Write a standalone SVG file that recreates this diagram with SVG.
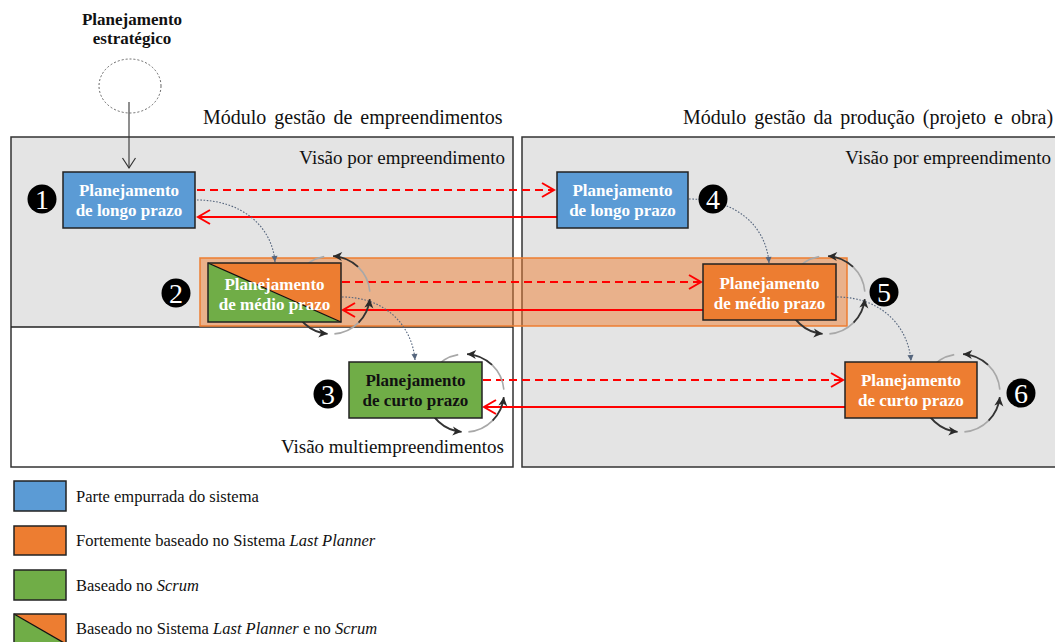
<svg xmlns="http://www.w3.org/2000/svg" xmlns:xlink="http://www.w3.org/1999/xlink" width="1055" height="642" viewBox="0 0 1055 642">
<style>
.serif{font-family:"Liberation Serif","Times New Roman",serif;}
.title{font-size:20px;fill:#111;word-spacing:3px;}
.view{font-size:19px;fill:#111;}
.nt{font-size:17px;font-weight:bold;text-anchor:middle;}
.w{fill:#fff;}
.k{fill:#111;}
.box{stroke:#222;stroke-width:1.5;}
.blue{fill:#5B9BD5;}
.orange{fill:#ED7D31;}
.green{fill:#70AD47;}
.red{stroke:#FF0000;stroke-width:2;fill:none;}
.dash{stroke-dasharray:8 5;}
.dot{stroke:#55657D;stroke-width:1.1;fill:none;stroke-dasharray:1.6 1.6;}
.num{fill:#000;}
.numt{font-size:28px;fill:#fff;text-anchor:middle;}
.leg{font-size:16.5px;fill:#111;}
.cl{stroke:#A8A8A8;stroke-width:1.6;fill:none;}
.cd{stroke:#333;stroke-width:1.8;fill:none;}
</style>
<defs>
<marker id="chev" viewBox="-14 -9 16 18" refX="0" refY="0" markerWidth="16" markerHeight="18" orient="auto" markerUnits="userSpaceOnUse">
<path d="M-12,-7 L0,0 L-12,7" fill="none" stroke="#FF0000" stroke-width="2"/>
</marker>
<marker id="open" viewBox="-12 -8 14 16" refX="0" refY="0" markerWidth="14" markerHeight="16" orient="auto" markerUnits="userSpaceOnUse">
<path d="M-10,-6.5 L0,0 L-10,6.5" fill="none" stroke="#333" stroke-width="1.2"/>
</marker>
<marker id="tri" viewBox="-7 -4 8 8" refX="0" refY="0" markerWidth="8" markerHeight="8" orient="auto" markerUnits="userSpaceOnUse">
<path d="M0,0 L-6,-3 L-6,3 z" fill="#55657D"/>
</marker>
<marker id="cyc" viewBox="-10 -6 11 12" refX="0" refY="0" markerWidth="11" markerHeight="12" orient="auto" markerUnits="userSpaceOnUse">
<path d="M0,0 L-9,-4.5 L-6.5,0 L-9,4.5 z" fill="#2A2A2A"/>
</marker>
<g id="cycle">
<path class="cl" d="M38.85,-3.40 A39,39 0 0 0 27.09,-28.05"/>
<path class="cd" d="M27.09,-28.05 A39,39 0 0 0 2.04,-38.95" marker-end="url(#cyc)"/>
<path class="cl" d="M-6.77,-38.41 A39,39 0 0 0 -38.41,6.77"/>
<path class="cd" d="M-38.41,6.77 A39,39 0 0 0 -3.40,38.85" marker-end="url(#cyc)"/>
<path class="cl" d="M3.40,38.85 A39,39 0 0 0 27.58,27.58"/>
<path class="cd" d="M27.58,27.58 A39,39 0 0 0 38.79,4.08" marker-end="url(#cyc)"/>
</g>
</defs>
<rect width="1055" height="642" fill="#fff"/>

<g id="panels">
<rect x="11" y="137" width="502" height="190" fill="#E4E4E4"/>
<rect x="11" y="327" width="502" height="140" fill="#fff"/>
<rect x="11" y="137" width="502" height="330" fill="none" stroke="#333" stroke-width="1.5"/>
<line x1="11" y1="327" x2="513" y2="327" stroke="#222" stroke-width="1.5"/>
<rect x="522" y="137" width="540" height="330" fill="#E4E4E4" stroke="#333" stroke-width="1.5"/>
<text class="serif title" x="203" y="124">Módulo gestão de empreendimentos</text>
<text class="serif title" x="683" y="124">Módulo gestão da produção (projeto e obra)</text>
<text class="serif view" x="505" y="164" text-anchor="end">Visão por empreendimento</text>
<text class="serif view" x="1051" y="164" text-anchor="end">Visão por empreendimento</text>
<text class="serif view" x="504" y="453" text-anchor="end">Visão multiempreendimentos</text>
</g>

<rect id="band" x="200" y="258" width="647" height="68" fill="#ED7D31" fill-opacity="0.5" stroke="#ED7D31" stroke-width="1.5"/>

<g id="strategic">
<text class="serif" x="132" y="25" font-size="17" font-weight="bold" text-anchor="middle" fill="#111">Planejamento</text>
<text class="serif" x="132" y="44" font-size="17" font-weight="bold" text-anchor="middle" fill="#111">estratégico</text>
<ellipse cx="130" cy="86" rx="31" ry="27" fill="none" stroke="#666" stroke-width="1" stroke-dasharray="2 2"/>
</g>

<g id="connectors">
<line x1="129" y1="102" x2="129" y2="168" stroke="#333" stroke-width="1.1" marker-end="url(#open)"/>
<line class="red dash" x1="197" y1="190" x2="554" y2="190" marker-end="url(#chev)"/>
<line class="red" x1="557" y1="217" x2="198" y2="217" marker-end="url(#chev)"/>
<line class="red dash" x1="342" y1="282" x2="701" y2="282" marker-end="url(#chev)"/>
<line class="red" x1="703" y1="310" x2="343" y2="310" marker-end="url(#chev)"/>
<line class="red dash" x1="483" y1="380" x2="843" y2="380" marker-end="url(#chev)"/>
<line class="red" x1="845" y1="407" x2="484" y2="407" marker-end="url(#chev)"/>
<path class="dot" d="M197,200 C240,200 272,225 275,262" marker-end="url(#tri)"/>
<path class="dot" d="M342,297 C385,297 412,325 415,360" marker-end="url(#tri)"/>
<path class="dot" d="M689,199 C735,199 766,225 769,263" marker-end="url(#tri)"/>
<path class="dot" d="M837,297 C880,297 908,325 911,361" marker-end="url(#tri)"/>
</g>

<g id="cycles">
<use xlink:href="#cycle" transform="translate(331,295)"/>
<use xlink:href="#cycle" transform="translate(826,295)"/>
<use xlink:href="#cycle" transform="translate(465,393)"/>
<use xlink:href="#cycle" transform="translate(961,393)"/>
</g>

<g id="node1">
<rect class="box blue" x="63" y="172" width="132" height="56"/>
<text class="serif nt w" x="129" y="196">Planejamento</text>
<text class="serif nt w" x="129" y="216">de longo prazo</text>
</g>

<g id="node2">
<polygon class="green" points="208,263 208,322 341,322"/>
<polygon class="orange" points="208,263 341,263 341,322"/>
<line x1="208" y1="263" x2="341" y2="322" stroke="#111" stroke-width="1.3"/>
<rect x="208" y="263" width="133" height="59" fill="none" stroke="#222" stroke-width="1.5"/>
<text class="serif nt w" x="274.5" y="290">Planejamento</text>
<text class="serif nt w" x="274.5" y="310">de médio prazo</text>
</g>

<g id="node3">
<rect class="box green" x="349" y="362" width="133" height="56"/>
<text class="serif nt k" x="415.5" y="386">Planejamento</text>
<text class="serif nt k" x="415.5" y="406">de curto prazo</text>
</g>

<g id="node4">
<rect class="box blue" x="557" y="172" width="131" height="56"/>
<text class="serif nt w" x="622.5" y="196">Planejamento</text>
<text class="serif nt w" x="622.5" y="216">de longo prazo</text>
</g>

<g id="node5">
<rect class="box orange" x="703" y="264" width="133" height="56"/>
<text class="serif nt w" x="769.5" y="289">Planejamento</text>
<text class="serif nt w" x="769.5" y="309">de médio prazo</text>
</g>

<g id="node6">
<rect class="box orange" x="845" y="362" width="132" height="56"/>
<text class="serif nt w" x="911" y="386">Planejamento</text>
<text class="serif nt w" x="911" y="406">de curto prazo</text>
</g>

<g id="numbers">
<g id="n1"><circle class="num" cx="42" cy="199" r="14.5"/><text class="serif numt" x="42" y="209">1</text></g>
<g id="n2"><circle class="num" cx="176" cy="293" r="14.5"/><text class="serif numt" x="176" y="303">2</text></g>
<g id="n3"><circle class="num" cx="328" cy="394" r="14.5"/><text class="serif numt" x="328" y="404">3</text></g>
<g id="n4"><circle class="num" cx="713" cy="199" r="14.5"/><text class="serif numt" x="713" y="209">4</text></g>
<g id="n5"><circle class="num" cx="884" cy="292" r="14.5"/><text class="serif numt" x="884" y="302">5</text></g>
<g id="n6"><circle class="num" cx="1021" cy="393" r="14.5"/><text class="serif numt" x="1021" y="403">6</text></g>
</g>

<g id="legend">
<rect class="box blue" x="14" y="481" width="52" height="30"/>
<text class="serif leg" x="76" y="502">Parte empurrada do sistema</text>
<rect class="box orange" x="14" y="526" width="52" height="29"/>
<text class="serif leg" x="76" y="546">Fortemente baseado no Sistema <tspan font-style="italic">Last Planner</tspan></text>
<rect class="box green" x="14" y="570" width="52" height="30"/>
<text class="serif leg" x="76" y="591">Baseado no <tspan font-style="italic">Scrum</tspan></text>
<polygon class="green" points="14,614 14,644 66,644"/>
<polygon class="orange" points="14,614 66,614 66,644"/>
<line x1="14" y1="614" x2="66" y2="644" stroke="#111" stroke-width="1.3"/>
<rect x="14" y="614" width="52" height="30" fill="none" stroke="#222" stroke-width="1.5"/>
<text class="serif leg" x="76" y="634">Baseado no Sistema <tspan font-style="italic">Last Planner</tspan> e no <tspan font-style="italic">Scrum</tspan></text>
</g>
</svg>
